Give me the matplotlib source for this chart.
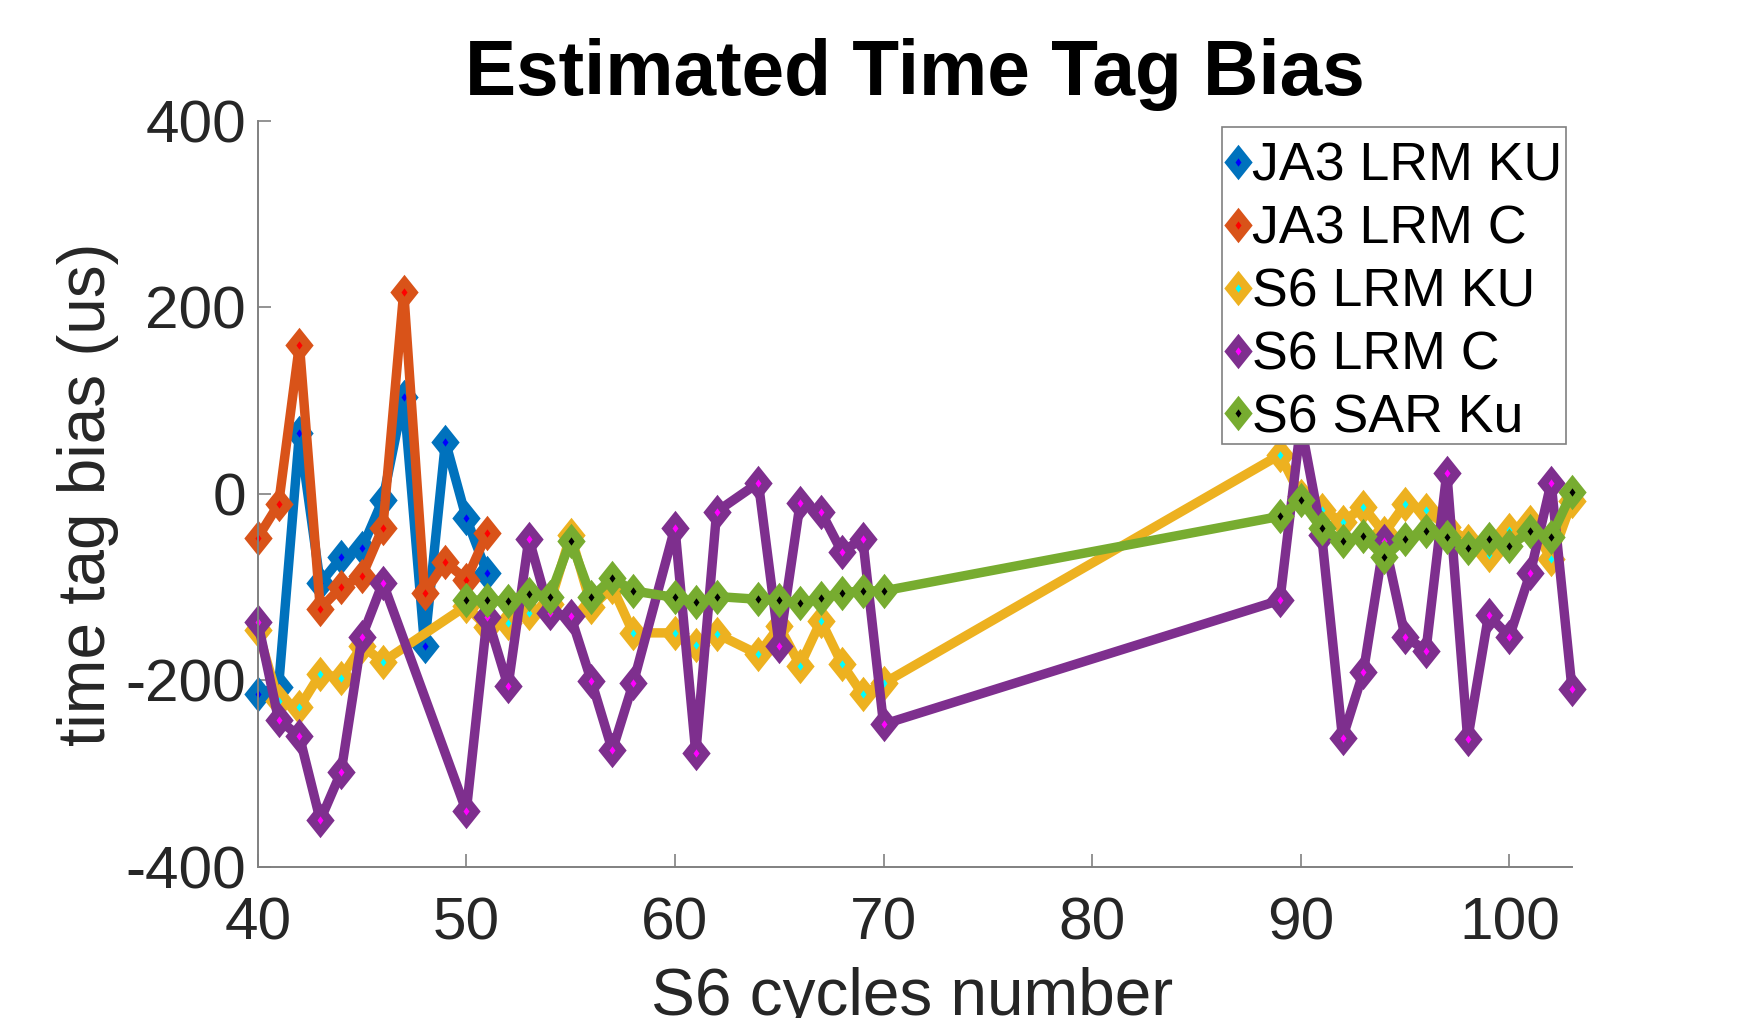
import matplotlib
matplotlib.use("Agg")
import matplotlib.pyplot as plt
from matplotlib.markers import MarkerStyle
from matplotlib.lines import Line2D
from matplotlib.path import Path
from matplotlib.patches import Rectangle
from matplotlib.legend_handler import HandlerTuple

plt.rcParams['font.family'] = ['Liberation Sans', 'DejaVu Sans']
plt.rcParams['axes.unicode_minus'] = False

# ---------------- data ----------------
ja3_cycles = [40, 41, 42, 43, 44, 45, 46, 47, 48, 49, 50, 51]
ja3_lrm_ku = [-215, -207, 65, -96, -68, -58, -6, 104, -163, 56, -26, -85]
ja3_lrm_c = [-47, -11, 160, -123, -100, -88, -36, 217, -106, -73, -92, -42]

s6_cycles = [40, 41, 42, 43, 44, 45, 46,
             50, 51, 52, 53, 54, 55, 56, 57, 58,
             60, 61, 62,
             64, 65, 66, 67, 68, 69, 70,
             89, 90, 91, 92, 93, 94, 95, 96, 97, 98, 99, 100, 101, 102, 103]
s6_lrm_ku = [-146, -222, -229, -193, -197, -163, -180,
             -120, -143, -138, -128, -118, -44, -121, -100, -149,
             -149, -162, -150,
             -172, -142, -184, -136, -182, -215, -203,
             42, -2, -17, -30, -14, -42, -11, -17, -35, -50, -66, -39, -30, -70, -8]
s6_lrm_c = [-137, -242, -260, -350, -298, -153, -95,
            -340, -132, -206, -48, -128, -131, -201, -275, -203,
            -36, -278, -19,
            12, -163, -10, -19, -62, -48, -247,
            -114, 75, -44, -262, -191, -50, -153, -168, 23, -263, -130, -153, -85, 12, -209]

sar_cycles = [50, 51, 52, 53, 54, 55, 56, 57, 58,
              60, 61, 62,
              64, 65, 66, 67, 68, 69, 70,
              89, 90, 91, 92, 93, 94, 95, 96, 97, 98, 99, 100, 101, 102, 103]
s6_sar_ku = [-114, -114, -115, -107, -110, -50, -111, -90, -104,
             -111, -116, -110,
             -113, -114, -117, -112, -106, -104, -104,
             -24, -7, -37, -50, -45, -68, -48, -40, -46, -58, -48, -56, -40, -46, 2]

labels = ['JA3 LRM KU', 'JA3 LRM C', 'S6 LRM KU', 'S6 LRM C', 'S6 SAR Ku']
line_colors = ['#0072BD', '#D95319', '#EDB120', '#7E2F8E', '#77AC30']
face_colors = ['#0000FF', '#FF0000', '#00FFFF', '#FF00FF', '#000000']

xticks = [40, 50, 60, 70, 80, 90, 100]
yticks = [-400, -200, 0, 200, 400]

# ---------------- figure ----------------
W, H = 1751, 1018
fig = plt.figure(figsize=(W / 100, H / 100), dpi=100)
ax_l, ax_r, ax_t, ax_b = 257.7, 1572.0, 121.0, 866.9
ax = fig.add_axes([ax_l / W, 1 - ax_b / H, (ax_r - ax_l) / W, (ax_b - ax_t) / H])


def diamond_marker(aspect):
    p = Path([(0, 1), (aspect, 0), (0, -1), (-aspect, 0), (0, 1)],
             [Path.MOVETO, Path.LINETO, Path.LINETO, Path.LINETO, Path.CLOSEPOLY])
    return MarkerStyle(p, joinstyle='miter')


outer_m = diamond_marker(0.8)
inner_m = diamond_marker(0.72)
MS_OUT, MS_IN, LW = 25.5, 6.0, 6.8

series = [(ja3_cycles, ja3_lrm_ku), (ja3_cycles, ja3_lrm_c),
          (s6_cycles, s6_lrm_ku), (s6_cycles, s6_lrm_c), (sar_cycles, s6_sar_ku)]
for (xs, ys), lc, fc in zip(series, line_colors, face_colors):
    ax.plot(xs, ys, color=lc, lw=LW, marker=outer_m, ms=MS_OUT, mec='none',
            mfc=lc, solid_joinstyle='round', clip_on=False)
    ax.plot(xs, ys, ls='none', marker=inner_m, ms=MS_IN, mec='none', mfc=fc,
            clip_on=False)

ax.set_xlim(40, 103)
ax.set_ylim(-400, 400)
ax.set_xticks(xticks)
ax.set_yticks(yticks)

spine_c = '#808080'
for s in ['top', 'right']:
    ax.spines[s].set_visible(False)
for s in ['left', 'bottom']:
    ax.spines[s].set_color(spine_c)
    ax.spines[s].set_linewidth(1.4)

ax.tick_params(axis='both', direction='in', length=9.4, width=1.2, color=spine_c,
               labelsize=43.5, labelcolor='#262626')
ax.tick_params(axis='x', pad=21.0)
ax.tick_params(axis='y', pad=8.4)

ax.set_title('Estimated Time Tag Bias', fontsize=55.2, fontweight='bold', pad=19.0,
             color='black')
ax.set_xlabel('S6 cycles number', fontsize=47.3, color='#262626')
ax.set_ylabel('time tag bias (us)', fontsize=47.3, color='#262626')
ax.xaxis.set_label_coords(0.498, -0.1342)
ax.yaxis.set_label_coords(-0.1055, 0.5)

# ---------------- legend ----------------
def to_ax(px, py):
    return (px - ax_l) / (ax_r - ax_l), (ax_b - py) / (ax_b - ax_t)


bx0, by1 = to_ax(1221.7, 126.7)
bx1, by0 = to_ax(1565.7, 444.0)
frame = Rectangle((bx0, by0), bx1 - bx0, by1 - by0, transform=ax.transAxes,
                  facecolor='white', edgecolor='#808080', lw=1.2, zorder=9,
                  clip_on=False)
ax.add_patch(frame)

handles = []
for lc, fc in zip(line_colors, face_colors):
    h_out = Line2D([], [], ls='none', marker=outer_m, ms=MS_OUT, mec='none', mfc=lc)
    h_in = Line2D([], [], ls='none', marker=inner_m, ms=MS_IN, mec='none', mfc=fc)
    handles.append((h_out, h_in))

LEG_FS = 38.7
fs_px = LEG_FS * 100 / 72
HL, HTP = 0.3, 0.12
lx, ly = to_ax(1237.7 - HL * fs_px / 2, 141.7)
leg = ax.legend(handles, labels, loc='upper left', bbox_to_anchor=(lx, ly),
                borderaxespad=0, borderpad=0, fontsize=LEG_FS, frameon=False,
                handlelength=HL, handletextpad=HTP, labelspacing=0.24,
                numpoints=1, handler_map={tuple: HandlerTuple(ndivide=1, pad=0)})
leg.set_zorder(10)

fig.savefig('out.png', dpi=100, facecolor='white')
